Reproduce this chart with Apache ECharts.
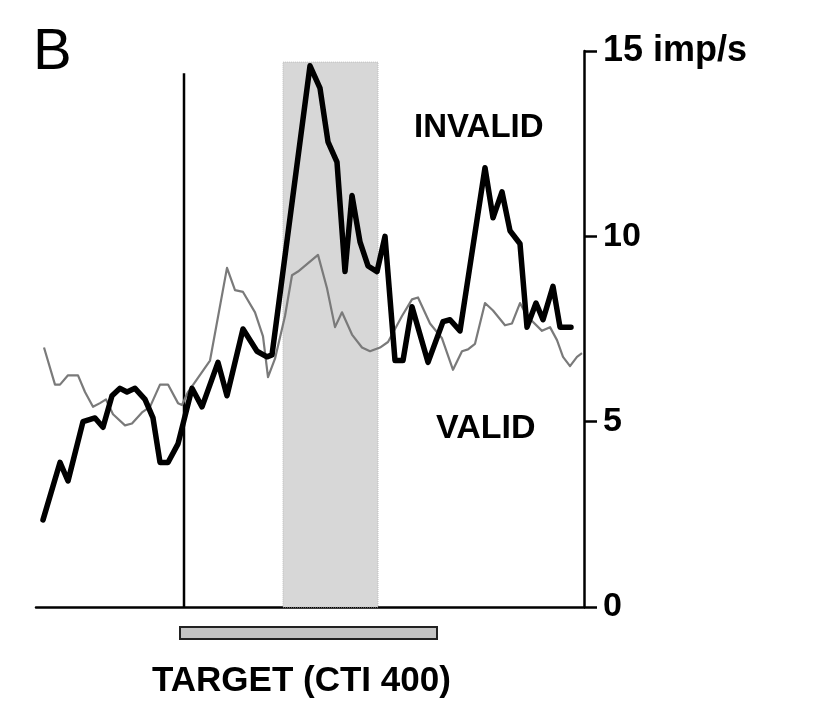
<!DOCTYPE html>
<html>
<head>
<meta charset="utf-8">
<script src="https://cdn.jsdelivr.net/npm/echarts@6/dist/echarts.min.js"></script>
<style>
html,body{margin:0;padding:0;background:#fff;}
#chart{width:818px;height:713px;}
</style>
</head>
<body>
<div id="chart"></div>
<script>
// time (ms, relative to target onset) and firing rate (imp/s)
const invalidT = [-141,-124,-116,-101,-89,-81,-72,-64,-57,-49,-39,-31,-24,-16,-6,8,18,34,43,59,73,83,88,126,136,144,153,161,168,176,184,193,201,211,219,228,244,259,266,276,301,309,318,326,336,343,352,359,369,376,387];
const invalidRate = [2.35,3.9,3.4,5.0,5.1,4.85,5.7,5.9,5.8,5.9,5.6,5.1,3.9,3.9,4.4,5.9,5.4,6.6,5.7,7.5,6.9,6.75,6.8,14.6,14.0,12.55,12.0,9.05,11.1,9.85,9.2,9.05,10.0,6.65,6.65,8.1,6.6,7.7,7.75,7.45,11.85,10.5,11.2,10.15,9.8,7.55,8.2,7.75,8.65,7.55,7.55];

const validT = [-140,-129,-124,-116,-106,-99,-91,-84,-78,-71,-59,-52,-42,-34,-24,-16,-6,-2,4,26,43,51,59,71,79,84,91,101,108,114,134,143,151,158,168,178,186,196,204,218,228,234,246,258,269,278,284,291,301,309,321,328,336,343,358,366,373,379,386,393,398];
const validRate = [7.0,6.0,6.0,6.25,6.25,5.8,5.4,5.5,5.6,5.2,4.9,4.95,5.25,5.4,6.0,6.0,5.5,5.45,5.8,6.65,9.15,8.55,8.5,7.95,7.3,6.2,6.7,7.85,8.95,9.05,9.5,8.6,7.55,7.95,7.35,7.0,6.9,7.0,7.15,7.85,8.3,8.35,7.65,7.25,6.4,6.9,6.95,7.1,8.2,8.0,7.6,7.65,8.2,7.85,7.45,7.55,7.2,6.75,6.5,6.75,6.85];

const yTicks = [0, 5, 10, 15];
const yUnit = 'imp/s';
const onsetTime = 0;
const onsetTop = 14.4;
const shadeWindow = [99, 194];
const shadeTop = 14.7;
const targetBar = [-4, 253];
const labels = { panel: 'B', invalid: 'INVALID', valid: 'VALID', target: 'TARGET (CTI 400)' };

const FONT = '"Liberation Sans", Arial, Helvetica, sans-serif';

const chart = echarts.init(document.getElementById('chart'));
const option = {
  animation: false,
  backgroundColor: '#fff',
  grid: { left: 36, right: 234, top: 51, bottom: 106, containLabel: false },
  xAxis: {
    type: 'value', min: -148, max: 400,
    axisLine: { show: true, onZero: false, lineStyle: { color: '#000', width: 2.5 } },
    axisTick: { show: false }, axisLabel: { show: false }, splitLine: { show: false }
  },
  yAxis: {
    type: 'value', position: 'right', min: yTicks[0], max: yTicks[yTicks.length-1], interval: 5,
    axisLine: { show: true, onZero: false, lineStyle: { color: '#000', width: 2.5 } },
    axisTick: { show: true, inside: false, length: 13, lineStyle: { color: '#000', width: 2.5 } },
    axisLabel: {
      margin: 19, color: '#000', fontFamily: FONT, fontWeight: 'bold', fontSize: 34,
      formatter: v => v === 15 ? '{a|' + v + ' ' + yUnit + '}' : String(v),
      rich: { a: { fontFamily: FONT, fontWeight: 'bold', fontSize: 36, color: '#000' } }
    },
    splitLine: { show: false }
  },
  series: [
    {
      name: 'shade', type: 'line', data: [], silent: true,
      markArea: {
        silent: true,
        itemStyle: { color: '#d7d7d7', borderColor: '#bdbdbd', borderWidth: 1, borderType: 'dotted' },
        data: [[{ xAxis: shadeWindow[0], yAxis: 0 }, { xAxis: shadeWindow[1], yAxis: shadeTop }]]
      },
      z: 1
    },
    {
      name: 'onset', type: 'line', symbol: 'none', silent: true,
      data: [[onsetTime, 0], [onsetTime, onsetTop]],
      lineStyle: { color: '#000', width: 2.5 }, z: 3
    },
    {
      name: 'VALID', type: 'line', symbol: 'none', silent: true,
      data: validT.map((t, i) => [t, validRate[i]]),
      lineStyle: { color: '#7a7a7a', width: 2.2, join: 'round' }, z: 4
    },
    {
      name: 'INVALID', type: 'line', symbol: 'none', silent: true,
      data: invalidT.map((t, i) => [t, invalidRate[i]]),
      lineStyle: { color: '#000', width: 5.5, join: 'round', cap: 'round' }, z: 5
    },
    {
      name: 'target', type: 'custom', silent: true, clip: false,
      data: [[targetBar[0], targetBar[1]]],
      renderItem: function (params, api) {
        const p0 = api.coord([api.value(0), 0]);
        const p1 = api.coord([api.value(1), 0]);
        return {
          type: 'rect',
          shape: { x: p0[0], y: p0[1] + 20, width: p1[0] - p0[0], height: 12 },
          style: { fill: '#c4c4c4', stroke: '#222', lineWidth: 2 }
        };
      },
      z: 5
    }
  ],
  graphic: [
    { type: 'text', left: 33, top: 24, style: { text: labels.panel, font: '400 58px ' + FONT, fill: '#000' } },
    { type: 'text', left: 414, top: 111, style: { text: labels.invalid, font: 'bold 33px ' + FONT, fill: '#000' } },
    { type: 'text', left: 436, top: 412, style: { text: labels.valid, font: 'bold 34px ' + FONT, fill: '#000' } },
    { type: 'text', left: 152, top: 664, style: { text: labels.target, font: 'bold 35px ' + FONT, fill: '#000' } }
  ]
};
chart.setOption(option);
</script>
</body>
</html>
